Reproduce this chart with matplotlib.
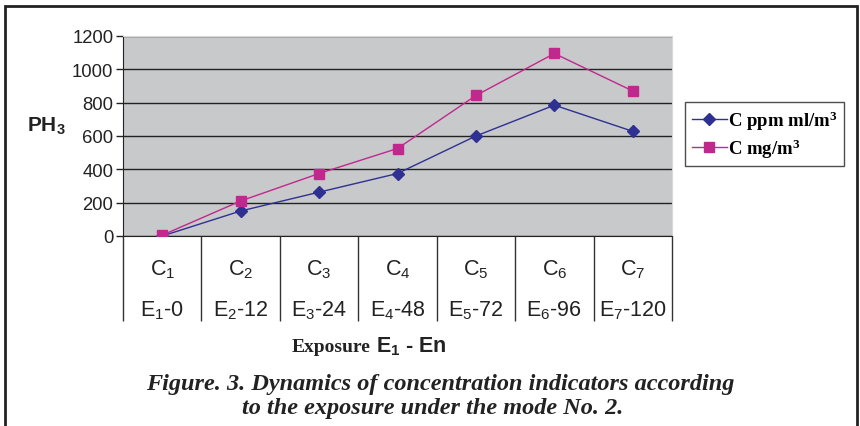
import matplotlib.pyplot as plt
from matplotlib.patches import Rectangle
from matplotlib.lines import Line2D
import matplotlib.transforms as mtransforms

# data
c_labels = ['C$_1$', 'C$_2$', 'C$_3$', 'C$_4$', 'C$_5$', 'C$_6$', 'C$_7$']
e_labels = ['E$_1$-0', 'E$_2$-12', 'E$_3$-24', 'E$_4$-48', 'E$_5$-72', 'E$_6$-96', 'E$_7$-120']
ppm_vals = [0, 150, 263, 375, 600, 785, 628]
mg_vals = [5, 210, 375, 525, 843, 1095, 870]

plt.rcParams['font.family'] = 'Liberation Sans'
plt.rcParams['mathtext.default'] = 'regular'

W, H = 860, 427
fig = plt.figure(figsize=(8.6, 4.27), dpi=100)

# plot area in pixels: x 123..672, y 37..237
ax = fig.add_axes([123 / W, 1 - 237 / H, (672 - 123) / W, (237 - 37) / H])
ax.set_facecolor('#c8c9cb')

x = [i + 0.5 for i in range(len(ppm_vals))]
ax.plot(x, ppm_vals, color='#2e3192', lw=1, marker='D', ms=6, mfc='#2e3192', mec='#2e3192', zorder=3)
ax.plot(x, mg_vals, color='#c0288e', lw=1, marker='s', ms=6.5, mfc='#c0288e', mec='#c0288e', zorder=3)

ax.set_xlim(0, 7)
ax.set_ylim(0, 1200)
ax.set_yticks(range(0, 1201, 200))
ax.yaxis.grid(True, color='#222222', lw=1)
ax.set_axisbelow(True)
ax.tick_params(axis='y', direction='out', length=5, width=1, labelsize=13.3, pad=2, colors='#222222')
ax.set_xticks(range(0, 8))
ax.set_xticklabels([])
ax.tick_params(axis='x', direction='out', length=61, width=1, colors='#333333')
for s in ['top', 'right']:
    ax.spines[s].set_color('#d8d8d8')
for s in ['left', 'bottom']:
    ax.spines[s].set_color('#222222')

# multi-level category labels
trans = mtransforms.blended_transform_factory(ax.transData, fig.transFigure)
for i in range(len(c_labels)):
    ax.text(x[i], 1 - 270 / H, c_labels[i], transform=trans, ha='center', va='center', fontsize=15.5, color='#222222')
    ax.text(x[i], 1 - 311 / H, e_labels[i], transform=trans, ha='center', va='center', fontsize=15.5, color='#222222')

# y label
fig.text(46 / W, 1 - 126 / H, 'PH$_3$', ha='center', va='center', fontsize=15, fontweight='bold', color='#222222')

# x label: serif + sans parts
fig.text(371 / W, 1 - 348 / H, 'Exposure', ha='right', va='center', fontsize=14, fontweight='bold',
         family='Liberation Serif', color='#222222')
fig.text(376 / W, 1 - 347 / H, r'E$_1$ - En', ha='left', va='center', fontsize=15.5, fontweight='bold', color='#222222')

# caption
fig.text(440 / W, 1 - 385 / H, 'Figure. 3. Dynamics of concentration indicators according', ha='center', va='center',
         fontsize=17.5, fontweight='bold', style='italic', family='Liberation Serif', color='#222222')
fig.text(433 / W, 1 - 409 / H, 'to the exposure under the mode No. 2.', ha='center', va='center',
         fontsize=17.5, fontweight='bold', style='italic', family='Liberation Serif', color='#222222')

# legend
handles = [Line2D([], [], color='#2e3192', lw=1, marker='D', ms=6),
           Line2D([], [], color='#c0288e', lw=1, marker='s', ms=6.5)]
leg = fig.legend(handles, ['C ppm ml/m$^3$', 'C mg/m$^3$'], loc='center left',
                 bbox_to_anchor=(685 / W, 1 - 135 / H), frameon=True, fancybox=False,
                 edgecolor='#222222', handlelength=1.9, handletextpad=0.05, borderpad=0.35,
                 labelspacing=0.25, borderaxespad=0,
                 prop={'family': 'Liberation Serif', 'weight': 'bold', 'size': 13.5})
leg.get_frame().set_linewidth(1)

# outer frame
fig.patches.append(Rectangle((5 / W, -0.05), (857 - 5) / W, 1.05 - 7 / H, transform=fig.transFigure,
                             fill=False, edgecolor='#222222', lw=2))

fig.savefig('out.png', dpi=100)
